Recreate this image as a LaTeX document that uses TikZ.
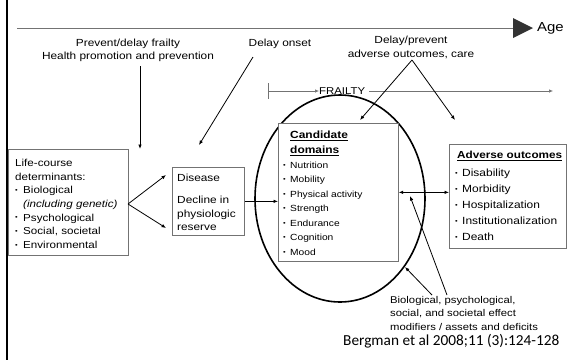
\documentclass[tikz,border=0pt]{standalone}
\usepackage{fontspec}
\setmainfont{Liberation Sans}[FakeStretch=1.15]
\newfontfamily\calfont{Carlito}
\usetikzlibrary{arrows.meta,shapes.geometric}
% small raised bullet in a box of given width
\newcommand\bul[1][7pt]{\makebox[#1][l]{\raisebox{1.3pt}{\fontsize{6.5}{6.5}\selectfont\textbullet}}}
\begin{document}
\begin{tikzpicture}[x=1pt,y=-1pt,
  box/.style={draw=black!55, line width=0.7pt, fill=white, inner sep=0pt, anchor=north west},
  txt/.style={inner sep=0pt, anchor=north west, align=left},
  ctxt/.style={inner sep=0pt, anchor=north, align=center},
  conn/.style={line width=0.8pt, -{Latex[length=4.5pt,width=3.6pt]}},
  thin/.style={draw=black!55, line width=0.6pt},
  tip/.style={-{Latex[length=4pt,width=3.4pt]}}]
\useasboundingbox (0,0) rectangle (567,360);

% left rule
\draw[line width=2pt] (7,0) -- (7,360);

% age axis
\coordinate (a0) at (17,28);
\coordinate (a1) at (513,28);
\draw[draw=black!55, line width=0.8pt] (a0) -- (a1);
\fill[black!80] (513,18) -- (533,28) -- (513,38) -- cycle;
\node[inner sep=0pt, anchor=base west, font=\fontsize{13}{15}\selectfont] (age) at (537,31.7) {Age};

% top labels
\node[ctxt, font=\fontsize{10.3}{13}\selectfont] (prev) at (128,39.2)
  {Prevent/delay frailty\\Health promotion and prevention};
\node[ctxt, font=\fontsize{10.3}{13}\selectfont] (onset) at (280,39.2) {Delay onset};
\node[ctxt, font=\fontsize{10.3}{14}\selectfont] (care) at (411,36.2)
  {Delay/prevent\\adverse outcomes, care};

% frailty axis
\node[inner sep=0pt, anchor=west, font=\fontsize{9.9}{12}\selectfont] (frl) at (319,91) {FRAILTY};
\coordinate (f0) at (268,91);
\coordinate (f1) at (553,91);
\draw[thin] (268,83) -- (268,99);
\draw[thin, tip] (f0) -- (frl.west);
\draw[thin, tip] ([xshift=4pt]frl.east) -- (f1);

% frailty ellipse
\node[draw, ellipse, line width=1.6pt, minimum width=170pt, minimum height=207pt, inner sep=0pt] (ell) at (340,198.5) {};

% boxes
\node[box, minimum width=120pt, minimum height=106pt] (lc) at (8,149) {};
\node[box, minimum width=72pt, minimum height=68pt] (dis) at (172,167) {};
\node[box, minimum width=120pt, minimum height=138pt] (cand) at (278,123) {};
\node[box, minimum width=117pt, minimum height=104pt] (adv) at (449,144) {};

% box texts
\node[txt, font=\fontsize{10.1}{13.7}\selectfont] (lct) at (15,158.9)
  {Life-course\\determinants:\\\bul[8pt]Biological\\\hspace*{8pt}\textit{(including genetic)}\\\bul[8pt]Psychological\\\bul[8pt]Social, societal\\\bul[8pt]Environmental};
\node[txt, font=\fontsize{10.3}{13.5}\selectfont] (dist) at (177,174.2)
  {Disease\\[8.5pt]Decline in\\physiologic\\reserve};
\node[txt, font=\fontsize{10.4}{15}\selectfont\bfseries] (candh) at (290,131.1)
  {\underline{Candidate}\\\underline{domains}};
\node[txt, font=\fontsize{8.9}{14.5}\selectfont] (candt) at (283,161.8)
  {\bul[7pt]Nutrition\\\bul[7pt]Mobility\\\bul[7pt]Physical activity\\\bul[7pt]Strength\\\bul[7pt]Endurance\\\bul[7pt]Cognition\\\bul[7pt]Mood};
\node[txt, font=\fontsize{10.2}{16}\selectfont\bfseries] (advh) at (457,151.2)
  {\underline{Adverse outcomes}};
\node[txt, font=\fontsize{10.4}{16}\selectfont] (advt) at (455,169.1)
  {\bul[7pt]Disability\\\bul[7pt]Morbidity\\\bul[7pt]Hospitalization\\\bul[7pt]Institutionalization\\\bul[7pt]Death};

% effect modifiers label and reference
\node[txt, font=\fontsize{9.8}{13.5}\selectfont] (mod) at (390,296)
  {Biological, psychological,\\social, and societal effect\\modifiers / assets and deficits};
\node[inner sep=0pt, anchor=base west, font=\calfont\fontsize{15.3}{18}\selectfont] (ref) at (343,345.5)
  {Bergman et al 2008;11 (3):124-128};

% connectors
\coordinate (p0) at (140,66);
\draw[conn] (p0) -- (p0 |- lc.north);
\coordinate (o0) at (253,57);
\coordinate (o1) at (199,145);
\draw[conn] (o0) -- (o1);
\coordinate (c0) at (412,60);
\coordinate (c1) at (360,120);
\coordinate (c2) at (455,120);
\draw[conn] (c0) -- (c1);
\draw[conn] (c0) -- (c2);
\coordinate (l0) at (128,204);
\coordinate (d1) at (166,175);
\coordinate (d2) at (166,228);
\draw[conn] (l0) -- (d1);
\draw[conn] (l0) -- (d2);
\draw[conn] (dis.east) -- (dis.east -| cand.west);
\draw[line width=0.8pt, {Latex[length=4.5pt,width=3.6pt]}-{Latex[length=4.5pt,width=3.6pt]}] (cand.east) -- (cand.east -| adv.west);
\coordinate (m0) at (447,295);
\coordinate (m1) at (410,196);
\coordinate (m2) at (432,295);
\coordinate (m3) at (405,267);
\draw[conn] (m0) -- (m1);
\draw[conn] (m2) -- (m3);
\end{tikzpicture}
\end{document}
